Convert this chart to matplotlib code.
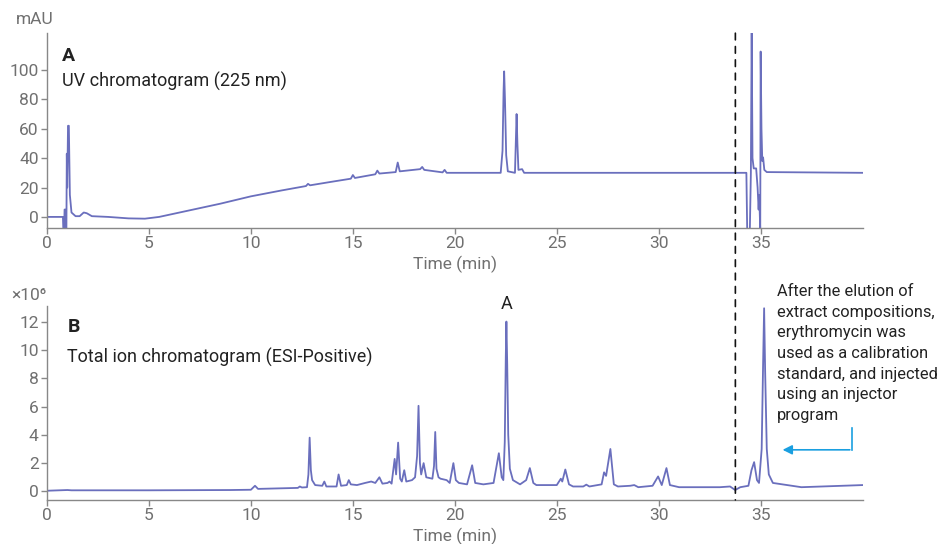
"""UV and total ion chromatograms, stacked (Agg backend, headless-safe)."""

import matplotlib

matplotlib.use("Agg")

import matplotlib.pyplot as plt
from matplotlib.patches import ConnectionPatch

plt.rcParams["font.family"] = ["Roboto", "DejaVu Sans"]

# UV trace at 225 nm (mAU)
uv_time = [0.0, 0.78, 0.80, 0.84, 0.86, 0.90, 0.92, 0.95, 0.97, 0.99, 1.03, 1.07, 1.12, 1.2, 1.4, 1.6,
           1.8, 1.95, 2.2, 3.0, 4.0, 4.8, 5.5, 6.5, 7.5, 8.5, 10.0, 11.5, 12.7, 12.8, 12.9, 14.0,
           14.9, 15.0, 15.1, 16.1, 16.2, 16.3, 17.1, 17.2, 17.3, 18.3, 18.4, 18.5, 19.4, 19.5, 19.6,
           22.25, 22.34, 22.39, 22.42, 22.46, 22.52, 22.6, 22.95, 23.0, 23.03, 23.07, 23.12, 23.3,
           23.4, 34.3, 34.34, 34.47, 34.52, 34.56, 34.6, 34.66, 34.78, 34.85, 34.9, 34.93, 34.98,
           35.0, 35.04, 35.08, 35.12, 35.18, 35.3, 40.0]
uv_mau = [0, 0, -9, -9, 5, 5, -9, -9, 43, 20, 62, 62, 15, 3, 0.5, 0.5,
          3, 2.5, 0.5, 0, -1, -1.2, 0, 3, 6, 9, 14, 18, 21, 22.5, 21.5, 24,
          26, 28.5, 26.5, 29, 31.5, 29.5, 30.5, 37, 31, 32.5, 34, 32, 30.3, 32, 30,
          30, 45, 85, 99, 80, 42, 31, 30, 55, 70, 50, 32, 32.5,
          30, 30, -9, -9, 30, 127, 40, 33, 33, 20, 5, 15, -9,
          112.5, 60, 38, 40.5, 32, 30.5, 30]

# Total ion current, ESI positive (x1e6 counts)
tic_time = [0, 1.0, 1.2, 5, 9, 10.0, 10.2, 10.35, 12.3, 12.4, 12.5, 12.75, 12.82, 12.88, 12.94, 13.0,
            13.15, 13.5, 13.6, 13.7, 14.2, 14.3, 14.42, 14.7, 14.8, 14.9, 15.2, 15.6, 15.9, 16.1,
            16.3, 16.45, 16.7, 16.8, 16.9, 17.05, 17.12, 17.22, 17.32, 17.4, 17.52, 17.62, 17.9,
            18.05, 18.15, 18.22, 18.29, 18.35, 18.47, 18.6, 18.9, 18.98, 19.04, 19.1, 19.2, 19.3,
            19.6, 19.75, 19.93, 20.05, 20.2, 20.6, 20.85, 21.0, 21.4, 21.9, 22.16, 22.3, 22.38,
            22.45, 22.5, 22.53, 22.57, 22.62, 22.7, 22.85, 23.2, 23.5, 23.68, 23.85, 24.0, 25.0,
            25.2, 25.27, 25.42, 25.6, 25.8, 26.3, 26.45, 26.6, 27.2, 27.32, 27.42, 27.63, 27.8,
            28.0, 28.6, 28.8, 29.0, 29.7, 29.97, 30.15, 30.38, 30.55, 31.0, 33.0, 33.5, 33.75, 34.0,
            34.4, 34.55, 34.68, 34.82, 34.92, 35.05, 35.12, 35.17, 35.22, 35.3, 35.4, 35.6, 37.0,
            38.0, 40.0]
tic_counts = [0.05, 0.1, 0.08, 0.08, 0.1, 0.12, 0.4, 0.18, 0.25, 0.35, 0.28, 0.3, 1.2, 3.8, 1.5, 0.8,
              0.45, 0.4, 0.7, 0.35, 0.35, 1.2, 0.4, 0.45, 0.8, 0.5, 0.45, 0.6, 0.7, 0.6,
              1.0, 0.55, 0.6, 0.7, 0.55, 2.3, 1.2, 3.45, 0.9, 0.7, 1.5, 0.7, 0.8,
              1.0, 2.5, 6.05, 2.0, 1.2, 2.0, 1.0, 0.9, 1.8, 4.2, 1.6, 1.0, 0.9,
              0.8, 0.6, 2.0, 0.8, 0.6, 0.5, 1.85, 0.6, 0.5, 0.6, 2.7, 1.0, 0.8,
              3.5, 9.5, 12.0, 9.0, 4.0, 1.6, 0.8, 0.5, 0.8, 1.65, 0.6, 0.45, 0.45,
              0.9, 0.7, 1.55, 0.5, 0.35, 0.35, 0.48, 0.35, 0.5, 1.35, 1.1, 3.0, 0.5,
              0.35, 0.4, 0.45, 0.3, 0.4, 1.06, 0.45, 1.65, 0.45, 0.3, 0.3, 0.35, 0.1, 0.3,
              0.4, 1.5, 2.07, 0.8, 0.6, 3.0, 9.0, 12.94, 8.5, 3.0, 1.2, 0.6, 0.3,
              0.35, 0.45]

uv_yticks = [0, 20, 40, 60, 80, 100]
tic_yticks = [0, 2, 4, 6, 8, 10, 12]
x_ticks = [0, 5, 10, 15, 20, 25, 30, 35]
split_time = 33.76  # standard injection marker

note_lines = [
    "After the elution of",
    "extract compositions,",
    "erythromycin was",
    "used as a calibration",
    "standard, and injected",
    "using an injector",
    "program",
]

TRACE = "#5a5fb6"
TICK = "#707070"
INK = "#222222"
ARROW = "#1a9fe0"

fig = plt.figure(figsize=(9.5, 5.44), dpi=100)
ax1 = fig.add_axes([0.0495, 0.581, 0.8585, 0.358])
ax2 = fig.add_axes([0.0495, 0.081, 0.8585, 0.3565])


def _style(ax, yticks):
    for side in ("top", "right"):
        ax.spines[side].set_visible(False)
    for side in ("left", "bottom"):
        ax.spines[side].set_color("#888888")
        ax.spines[side].set_linewidth(1.0)
    ax.set_xlim(0, 40)
    ax.set_xticks(x_ticks)
    ax.set_yticks(yticks)
    ax.tick_params(colors="#888888", labelcolor=TICK, labelsize=12.5, length=4, width=1.0, pad=2)
    ax.set_xlabel("Time (min)", color=TICK, fontsize=12.5, labelpad=3)


ax1.plot(uv_time, uv_mau, color=TRACE, lw=1.3, alpha=0.9)
ax1.set_ylim(-7.5, 125)
_style(ax1, uv_yticks)
ax1.text(0.018, 0.885, "A", transform=ax1.transAxes, fontsize=14, fontweight="bold", color=INK, va="center")
ax1.text(0.018, 0.75, "UV chromatogram (225 nm)", transform=ax1.transAxes, fontsize=13, color=INK, va="center")

ax2.plot(tic_time, tic_counts, color=TRACE, lw=1.3, alpha=0.9)
ax2.set_ylim(-0.6, 13.1)
_style(ax2, tic_yticks)
ax2.text(0.025, 0.89, "B", transform=ax2.transAxes, fontsize=14, fontweight="bold", color=INK, va="center")
ax2.text(0.025, 0.735, "Total ion chromatogram (ESI-Positive)", transform=ax2.transAxes, fontsize=13,
         color=INK, va="center")
ax2.text(22.53, 12.6, "A", fontsize=13, color=INK, ha="center", va="bottom")

fig.text(35 / 950, 1 - 20 / 544, "mAU", fontsize=12.5, color=TICK, ha="center", va="center")
fig.text(46 / 950, 1 - 296 / 544, "×10⁶", fontsize=12.5, color=TICK, ha="right", va="center")

# dashed split line across both panels
con = ConnectionPatch(xyA=(split_time, 125), coordsA=ax1.transData,
                      xyB=(split_time, -0.6), coordsB=ax2.transData,
                      color="#111111", lw=1.2, linestyle=(0, (4, 4)))
fig.add_artist(con)

fig.text(777 / 950, 1 - 284 / 544, "\n".join(note_lines), fontsize=11.8, color=INK,
         ha="left", va="top", linespacing=1.47)

ax2.plot([39.48, 39.48], [4.5, 2.94], color=ARROW, lw=1.2, clip_on=False)
ax2.annotate("", xy=(35.94, 2.94), xytext=(39.48 + 0.03, 2.94),
             arrowprops=dict(arrowstyle="-|>", color=ARROW, lw=1.2, mutation_scale=14), annotation_clip=False)

fig.savefig("out.png", dpi=100)
plt.close(fig)
